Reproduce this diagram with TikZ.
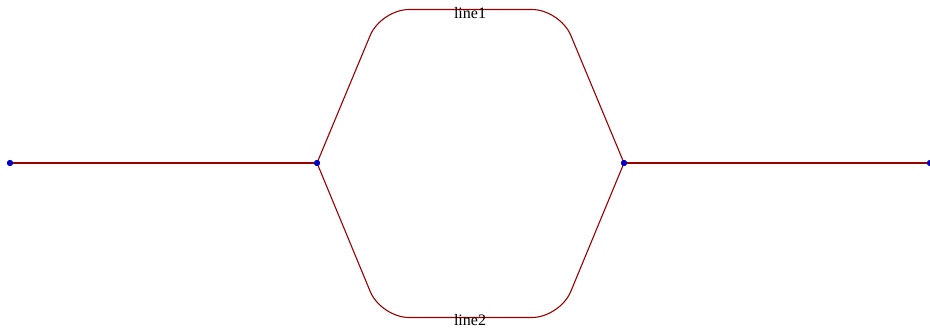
\documentclass[tikz,border=0pt]{standalone}
\usepackage{fontspec}
\setmainfont{Liberation Serif}
\usetikzlibrary{positioning}
\definecolor{wire}{HTML}{990000}
\definecolor{joint}{HTML}{0000CC}
\tikzset{
  dot/.style={circle,fill=joint,inner sep=0pt,minimum size=6pt},
  wireline/.style={draw=wire,line width=1.1pt},
  lbl/.style={font=\fontsize{16}{16}\selectfont,inner sep=0pt}
}
\begin{document}
\begin{tikzpicture}[x=1pt,y=1pt]
  \useasboundingbox (0,0) rectangle (930,330);
  \node[dot] (p1) at (10,167) {};
  \node[dot] (p2) at (317,167) {};
  \node[dot] (p3) at (624,167) {};
  \node[dot] (p4) at (930,167) {};
  \coordinate (tl) at (381,320.5);
  \coordinate (tr) at (560,320.5);
  \coordinate (bl) at (381,12.5);
  \coordinate (br) at (560,12.5);
  % outer legs, then the two branches
  \draw[wireline] (p1.center) -- (p2.center);
  \draw[wireline] (p3.center) -- (p4.center);
  \draw[wireline,rounded corners=28pt] (p2.center) -- (tl) -- (tr) -- (p3.center);
  \draw[wireline,rounded corners=28pt] (p2.center) -- (bl) -- (br) -- (p3.center);
  \node[lbl] (l1) at (470,317) {line1};
  \node[lbl] (l2) at (470,10) {line2};
  \foreach \p in {p1,p2,p3,p4} \node[dot] at (\p) {};
\end{tikzpicture}
\end{document}
